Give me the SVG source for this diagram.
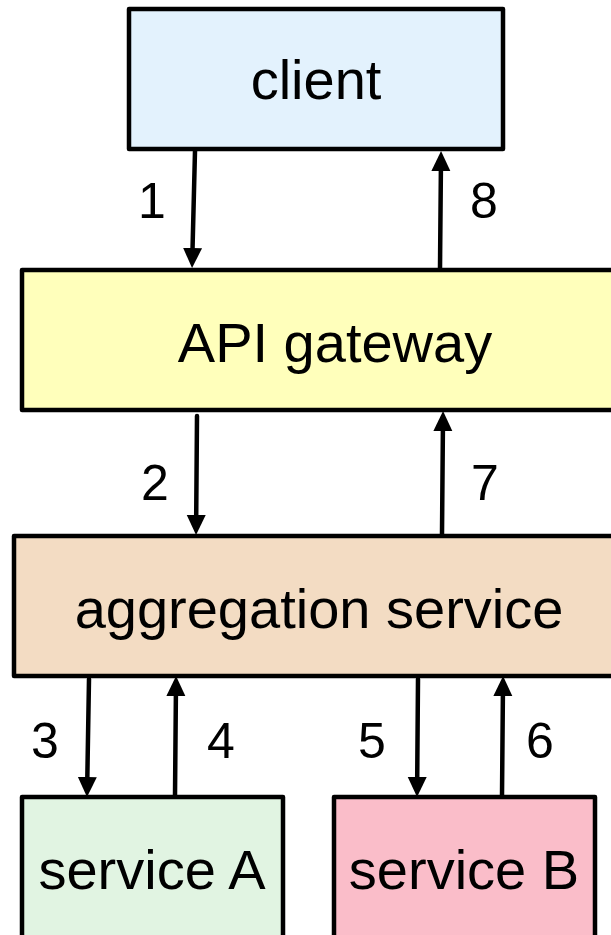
<svg xmlns="http://www.w3.org/2000/svg" width="611" height="935" viewBox="0 0 611 935">
<style>
.box{stroke:#000;stroke-width:4.5;stroke-linejoin:round}
.t{font-family:"Liberation Sans",Arial,sans-serif;font-size:56px;fill:#000;text-anchor:middle}
.n{font-family:"Liberation Sans",Arial,sans-serif;font-size:50px;fill:#000;text-anchor:middle}
.c{stroke:#000;stroke-width:4.5;stroke-linecap:round;fill:none;marker-end:url(#ah)}
</style>
<defs>
<marker id="ah" markerUnits="userSpaceOnUse" markerWidth="20" markerHeight="20" viewBox="0 0 20 20" refX="2" refY="10" orient="auto">
<path d="M0,0.5 L20,10 L0,19.5 z" fill="#000"/>
</marker>
</defs>
<rect width="611" height="935" fill="#fff"/>
<g id="client"><rect class="box" x="129" y="9" width="374" height="140" fill="#E3F2FD"/><text class="t" x="316" y="99">client</text></g>
<g id="gateway"><rect class="box" x="22" y="270" width="600" height="140" fill="#FFFFBB"/><text class="t" x="335" y="362">API gateway</text></g>
<g id="aggregation"><rect class="box" x="14" y="536" width="610" height="140" fill="#F3DCC3"/><text class="t" x="319" y="628">aggregation service</text></g>
<g id="serviceA"><rect class="box" x="22" y="797" width="261" height="150" fill="#E1F4E2"/><text class="t" x="152" y="889">service A</text></g>
<g id="serviceB"><rect class="box" x="334" y="797" width="261" height="150" fill="#FABDC9"/><text class="t" x="464" y="889">service B</text></g>
<g id="connectors">
<path class="c" d="M195,151 L192.5,250"/>
<path class="c" d="M440,269 L440.9,169"/>
<path class="c" d="M197,416 L196.2,517"/>
<path class="c" d="M442,534 L442.9,429"/>
<path class="c" d="M89,679 L87.3,779"/>
<path class="c" d="M175,796 L175.9,694"/>
<path class="c" d="M418,679 L417.2,779"/>
<path class="c" d="M502,796 L502.9,694"/>
</g>
<g id="labels">
<text class="n" x="152" y="218">1</text>
<text class="n" x="484" y="218">8</text>
<text class="n" x="155" y="500">2</text>
<text class="n" x="485" y="500">7</text>
<text class="n" x="45" y="758">3</text>
<text class="n" x="221" y="758">4</text>
<text class="n" x="372" y="758">5</text>
<text class="n" x="540" y="758">6</text>
</g>
</svg>
